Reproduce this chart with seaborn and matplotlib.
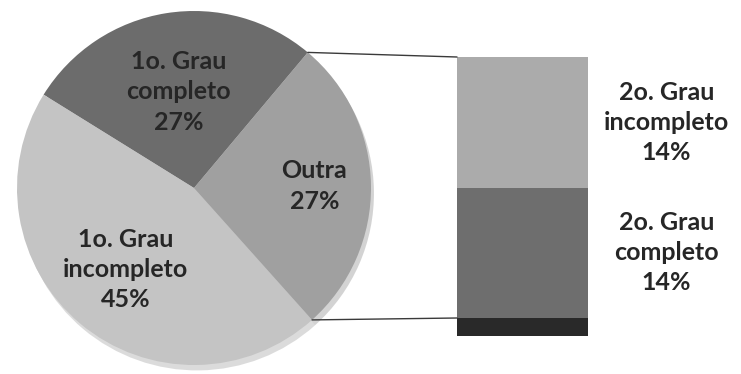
import numpy as np
import matplotlib
matplotlib.use("Agg")
import matplotlib.pyplot as plt
import seaborn as sns
from matplotlib.patches import ConnectionPatch, Shadow

# ---- data ----
pie_labels = ["1o. Grau completo", "1o. Grau incompleto", "Outra"]
pie_values = [27, 45, 27]
pie_colors = ["#6c6c6c", "#c4c4c4", "#a0a0a0"]

bar_labels = ["2o. Grau completo", "2o. Grau incompleto"]
bar_values = [14, 14]
bar_colors = ["#6e6e6e", "#ababab"]

sns.set_theme(style="white")
plt.rcParams["font.family"] = ["Lato", "DejaVu Sans"]

W, H = 741, 374
fig = plt.figure(figsize=(W / 100, H / 100), dpi=100)
fig.patch.set_facecolor("white")

TXT = dict(ha="center", va="center", fontsize=18, fontweight="bold",
           color="#262626", linespacing=1.38)

# pie axes (square, pixel-based placement)
cx, cy, r = 194, 188, 177
ax_pie = fig.add_axes([(cx - r) / W, (H - cy - r) / H, 2 * r / W, 2 * r / H])
wedges, _ = ax_pie.pie(
    pie_values, colors=pie_colors, startangle=50, counterclock=True,
    radius=1, wedgeprops=dict(linewidth=0),
    shadow=dict(ox=0.012, oy=-0.022, shade=0.3, alpha=0.3),
)
ax_pie.set_xlim(-1, 1)
ax_pie.set_ylim(-1, 1)
ax_pie.set_aspect("equal")
ax_pie.axis("off")

label_r = [0.55, 0.6, 0.68]
for w, lab, val, lr in zip(wedges, pie_labels, pie_values, label_r):
    mid = np.deg2rad((w.theta1 + w.theta2) / 2)
    ax_pie.text(lr * np.cos(mid), lr * np.sin(mid),
                f"{lab.replace('Grau ', 'Grau' + chr(10))}\n{val}%", **TXT)

# stacked bar axes
bx0, bx1, by0, by1 = 457, 588, 57, 318
ax_bar = fig.add_axes([bx0 / W, (H - by1) / H, (bx1 - bx0) / W, (by1 - by0) / H])
total = sum(bar_values)
sns.barplot(x=[0], y=[total], color=bar_colors[1], width=1, ax=ax_bar,
            saturation=1, linewidth=0)
sns.barplot(x=[0], y=[bar_values[0]], color=bar_colors[0], width=1, ax=ax_bar,
            saturation=1, linewidth=0)
ax_bar.set_xlim(-0.5, 0.5)
ax_bar.set_ylim(0, total)
ax_bar.axis("off")

# shadow under the bar
low = ax_bar.patches[-1]
sh = Shadow(low, 0, -1.4, facecolor="#111111", edgecolor="none",
            alpha=0.9, zorder=0)
sh.set_clip_on(False)
ax_bar.add_patch(sh)

bottom = 0
for lab, val in zip(bar_labels, bar_values):
    ax_bar.text(1.1, bottom + val / 2,
                f"{lab.replace('Grau ', 'Grau' + chr(10))}\n{val}%",
                clip_on=False, **TXT)
    bottom += val

# connector lines from the "Outra" wedge to the bar
outra = wedges[2]
for ang, yfrac in [(outra.theta2, 1), (outra.theta1, 0)]:
    a = np.deg2rad(ang)
    con = ConnectionPatch(xyA=(np.cos(a), np.sin(a)), coordsA=ax_pie.transData,
                          xyB=(0, yfrac), coordsB=ax_bar.transAxes,
                          color="#3a3a3a", linewidth=1.0)
    fig.add_artist(con)

fig.savefig("out.png", dpi=100, facecolor="white")
